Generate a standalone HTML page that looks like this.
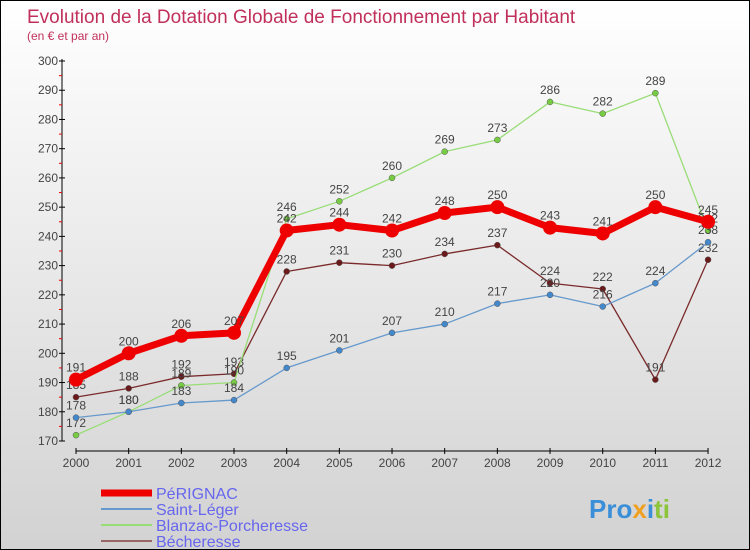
<!DOCTYPE html>
<html><head><meta charset="utf-8"><style>
body{margin:0}
#c{width:750px;height:550px;position:relative;box-sizing:border-box;border:1px solid #000;background:linear-gradient(#fff,#d2d2d2);font-family:"Liberation Sans",sans-serif;overflow:hidden}
</style></head><body>
<div id="c">
<svg id="s" width="748" height="548" style="position:absolute;left:0;top:0">
<text x="26" y="22" font-size="19" fill="#c0305a">Evolution de la Dotation Globale de Fonctionnement par Habitant</text>
<text x="26" y="39" font-size="12" fill="#c0305a">(en € et par an)</text>
<text x="588" y="517" font-size="26" font-weight="bold" fill="#3a8fd8">Pro<tspan fill="#f0a020">x</tspan><tspan fill="#3a8fd8">i</tspan><tspan fill="#8cc43c">ti</tspan></text>
</svg>
</div>
<script>
const years=[2000,2001,2002,2003,2004,2005,2006,2007,2008,2009,2010,2011,2012];
const perignac=[191,200,206,207,242,244,242,248,250,243,241,250,245];
const saintLeger=[178,180,183,184,195,201,207,210,217,220,216,224,238];
const blanzac=[172,180,189,190,246,252,260,269,273,286,282,289,242];
const becheresse=[185,188,192,193,228,231,230,234,237,224,222,191,232];
const yTicks=[170,180,190,200,210,220,230,240,250,260,270,280,290,300];
const NS="http://www.w3.org/2000/svg",s=document.getElementById('s');
const x=i=>75+i*52.67, y=v=>440-(v-170)*(380/130);
function el(t,a,p){const e=document.createElementNS(NS,t);for(const k in a)e.setAttribute(k,a[k]);(p||s).appendChild(e);return e;}
let e=el('line',{x1:61,y1:58,x2:61,y2:440,stroke:'#000'});


e=el('line',{x1:75,y1:450,x2:707,y2:450,stroke:'#000'});


yTicks.forEach(v=>{el('line',{x1:58,y1:y(v),x2:64,y2:y(v),stroke:'#000'});
 if(v<300)el('line',{x1:58,y1:y(v+5),x2:61,y2:y(v+5),stroke:'#e00'});
 const t=el('text',{x:57,y:y(v)+4,'font-size':12,fill:'#444','text-anchor':'end'});t.textContent=v;
 
 });
years.forEach((yr,i)=>{el('line',{x1:x(i),y1:447,x2:x(i),y2:453,stroke:'#000'});
 const t=el('text',{x:x(i),y:466,'font-size':12,fill:'#444','text-anchor':'middle'});t.textContent=yr;
 
 });
const series=[[becheresse,'#7a2a2a','#6a1a1a',1.3,3,'becheresse'],[blanzac,'#99dd77','#77cc44',1.3,3,'blanzac-porcheresse'],[saintLeger,'#6699cc','#4488cc',1.3,3,'saint-leger'],[perignac,'#ee0000','#ee0000',7,7,'perignac']];
series.forEach(([d,c,f,w,r,n])=>{
 const g=el('g',{});
 
 
 el('polyline',{points:d.map((v,i)=>x(i)+','+y(v)).join(' '),fill:'none',stroke:c,'stroke-width':w,'stroke-linejoin':'round'},g);
 d.forEach((v,i)=>{const p=el('circle',{cx:x(i),cy:y(v),r:r,fill:f,stroke:w>2?'none':'#555','stroke-width':0.5},g);
  
  
  const t=el('text',{x:x(i),y:y(v)-8,'font-size':12,fill:'#444','text-anchor':'middle'},g);t.textContent=v;});
});
const leg=[['PéRIGNAC','#ee0000',7],['Saint-Léger','#6699cc',2],['Blanzac-Porcheresse','#99dd77',2],['Bécheresse','#996666',2]];
leg.forEach(([n,c,w],i)=>{const yy=492+i*16;
 const g=el('g',{});
 
 
 el('line',{x1:100,y1:yy,x2:151,y2:yy,stroke:c,'stroke-width':w},g);
 const t=el('text',{x:155,y:yy+6,'font-size':16,fill:'#6666ee'},g);t.textContent=n;});
</script>
</body></html>
